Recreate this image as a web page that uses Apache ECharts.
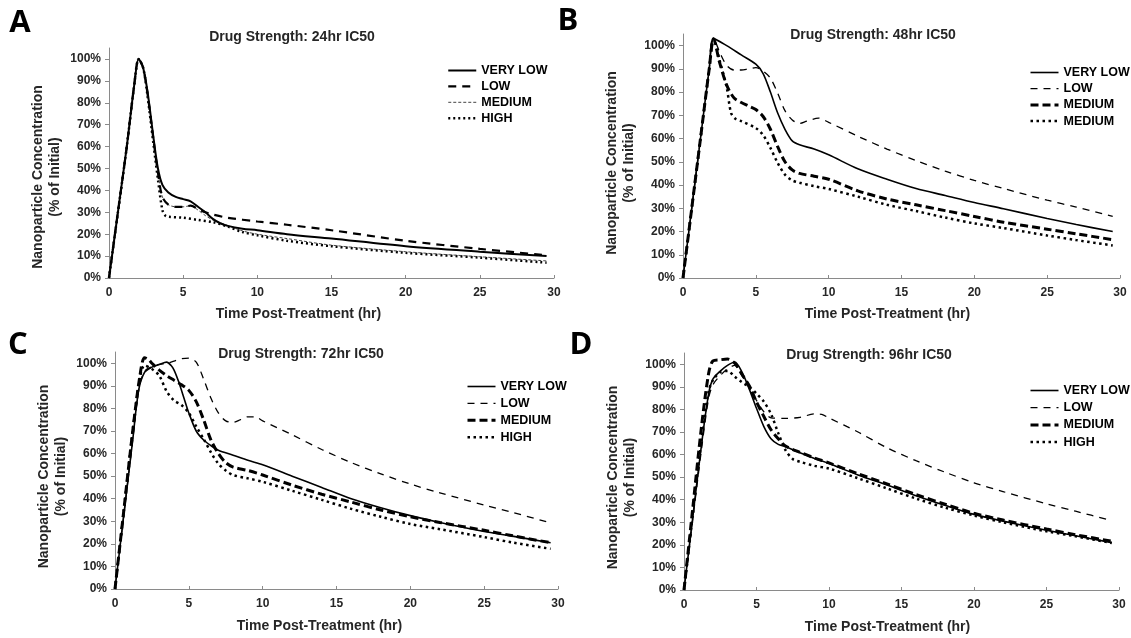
<!DOCTYPE html>
<html><head><meta charset="utf-8">
<script src="https://cdn.jsdelivr.net/npm/echarts@6/dist/echarts.min.js"></script>
<style>html,body{margin:0;padding:0;background:#fff}#c{width:1131px;height:638px}</style>
</head><body><div id="c"></div><script>
// ---------- DATA (time in hr, concentration in % of initial) ----------
const PANEL_TITLES = ['Drug Strength: 24hr IC50','Drug Strength: 48hr IC50','Drug Strength: 72hr IC50','Drug Strength: 96hr IC50'];
const PANEL_LETTERS = ['A','B','C','D'];
const LEGEND_A = ['VERY LOW','LOW','MEDIUM','HIGH'];
const LEGEND_B = ['VERY LOW','LOW','MEDIUM','MEDIUM'];
const LEGEND_C = ['VERY LOW','LOW','MEDIUM','HIGH'];
const LEGEND_D = ['VERY LOW','LOW','MEDIUM','HIGH'];
const Y_TICKS = [0,10,20,30,40,50,60,70,80,90,100];

const A_VERY_LOW = [[0,0],[0.6,30],[1.2,60],[1.7,88],[2,100],[2.3,96],[2.6,85],[3,64],[3.3,50],[3.6,42.5],[4,39],[4.5,37],[5,36],[5.5,35],[6,32.5],[6.5,30],[7,27],[7.5,25],[8,23.8],[9,22.5],[10,21.8],[12,20],[15,18],[20,14.5],[25,12],[29.5,10]];
const A_LOW = [[0,0],[0.6,30],[1.2,60],[1.7,88],[2,100],[2.3,96],[2.6,84],[3,63],[3.3,48],[3.6,37],[4,33.5],[4.5,32.5],[5,32.5],[5.5,33],[6,31.5],[6.5,30],[7,29],[8,27.5],[10,25.8],[12,24.3],[15,21.8],[20,17],[25,13.3],[29.5,10.4]];
const A_MEDIUM = [[0,0],[0.6,30],[1.2,60],[1.7,88],[2,100],[2.3,96],[2.6,84],[3,63],[3.3,48],[3.6,37],[4,33.5],[4.5,32.5],[5,32.5],[5.5,33],[6,31],[6.5,28.5],[7,26.5],[8,24],[9,21.5],[10,20],[12,18],[15,15],[20,12],[25,9.7],[29.5,7.8]];
const A_HIGH = [[0,0],[0.6,30],[1.2,60],[1.7,88],[2,100],[2.3,96],[2.6,83],[3,61],[3.3,45],[3.6,31],[3.8,28.5],[4,28],[5,27.5],[6,26.5],[7,25.5],[8,23.5],[9,21],[10,19.5],[12,17],[15,14.5],[20,11.5],[25,9.3],[29.5,7]];

const B_VERY_LOW = [[0,0],[0.6,30],[1.2,60],[1.8,90],[2.1,103],[3,100],[4,96],[5,92],[5.5,88],[6,80],[6.5,71],[7,64],[7.5,59],[8,57.3],[9,55.5],[10,53],[12,47],[14,42.5],[16,38.5],[18,35.5],[20,32.5],[22,29.8],[25,25.6],[27,23],[29.5,20]];
const B_LOW = [[0,0],[0.6,30],[1.2,60],[1.8,90],[2.1,103],[2.6,96],[3,91.5],[3.5,89.5],[4,89.5],[4.5,90],[5,90.5],[5.5,89],[6,86],[6.5,79.5],[7,72],[7.5,68],[8,66.5],[8.5,67.5],[9.3,68.8],[10,67],[12,61],[14,55.5],[16,50.5],[18,46],[20,42],[22,38.5],[25,33.5],[27,30.5],[29.5,26.5]];
const B_MEDIUM = [[0,0],[0.6,30],[1.2,60],[1.8,90],[2.1,103],[2.5,93],[3,83],[3.5,77.5],[4,75.5],[4.5,74],[5,72.5],[5.5,69.5],[6,64],[6.5,56.5],[7,50],[7.5,46.5],[8,45],[9,43.8],[10,42.5],[12,37.5],[14,34],[16,31.5],[18,29],[20,26.5],[22,24],[25,21],[27,19],[29.5,16.5]];
const B_HIGH = [[0,0],[0.6,30],[1.2,60],[1.8,90],[2.1,103],[2.5,94],[3,82],[3.3,71],[3.6,68.5],[4,67.5],[5,64.5],[5.5,61.5],[6,56],[6.5,49.5],[7,44.5],[7.5,42],[8,41],[9,39.5],[10,38.3],[12,35],[14,31.5],[16,28.8],[18,26],[20,23.5],[22,21.5],[25,18.3],[27,16.3],[29.5,14]];

const C_VERY_LOW = [[0,0],[0.6,33],[1.2,66],[1.6,88],[2,96],[2.5,98.3],[3,99.5],[3.5,100.5],[3.8,99],[4,97],[4.3,92],[4.7,84],[5,78],[5.5,70],[6,66],[6.5,63.5],[7,61.5],[8,59.3],[9,57],[10,55],[12,50],[14,45],[16,40],[18,36],[20,32.5],[22,29.5],[25,25.5],[27,23.3],[29.5,20.5]];
const C_LOW = [[0,0],[0.6,33],[1.2,66],[1.6,88],[2,96.5],[2.5,98.5],[3,99.5],[3.5,100],[4,101],[4.5,102],[5,102.3],[5.5,100.5],[6,93],[6.5,84.5],[7,78],[7.5,74.5],[8,73.8],[8.5,75],[9,76.3],[9.5,76.3],[10,74.5],[12,68.3],[14,61.8],[16,56],[18,51],[20,46.5],[22,42.6],[25,37.2],[27,33.8],[29.5,29.3]];
const C_MEDIUM = [[0,0],[0.6,35],[1.2,70],[1.7,95],[2,102.5],[2.3,101.5],[2.5,100],[3,97],[3.5,94.5],[4,92.5],[4.5,90.5],[5,88],[5.5,83],[6,75],[6.5,66],[7,60],[7.5,56],[8,54],[9,52.5],[10,50.5],[12,46],[14,42],[16,38.5],[18,35],[20,32],[22,29.5],[25,26],[27,23.5],[29.5,20.5]];
const C_HIGH = [[0,0],[0.6,35],[1.2,70],[1.7,94],[2,99],[2.5,97.5],[3,94.5],[3.5,87.5],[4,83.5],[4.5,81.5],[5,78],[5.5,72],[6,66.5],[6.5,60.5],[7,55.5],[7.5,52.5],[8,50.5],[9,49],[10,47.5],[12,43.5],[14,39.5],[16,35.5],[18,32],[20,28.8],[22,26.5],[25,23],[27,20.5],[29.5,17.8]];

const D_VERY_LOW = [[0,0],[0.6,32],[1.2,64],[1.7,87],[2,93.5],[2.5,97],[3,99.5],[3.5,101],[4,96.5],[4.5,89],[5,80.5],[5.5,72.5],[6,67],[6.5,64.5],[7,63.5],[8,60.8],[9,58.3],[10,56],[12,51],[14,46.5],[16,41.8],[18,37.5],[20,33.5],[22,30.5],[25,26.5],[27,24],[29.5,21]];
const D_LOW = [[0,0],[0.6,31],[1.2,62],[1.7,85],[2,91],[2.5,95],[3,98],[3.5,99.5],[4,95],[4.5,89.5],[5,84],[5.5,79],[6,76.3],[7,76],[8,76.5],[9,78],[9.5,77.8],[10,76.2],[12,70],[14,63],[16,57.3],[18,52.2],[20,47.5],[22,43.6],[25,38.2],[27,34.9],[29.5,30.8]];
const D_MEDIUM = [[0,0],[0.6,36],[1.2,72],[1.7,96],[2,101.5],[2.5,102],[3,102.3],[3.5,100.5],[4,95.5],[4.5,90.5],[5,83.3],[5.5,77],[6,71],[6.5,67],[7,63.8],[8,61],[9,58.5],[10,56.3],[12,51.5],[14,47],[16,42.3],[18,38],[20,34],[22,31],[25,27],[27,24.5],[29.5,21.6]];
const D_HIGH = [[0,0],[0.6,33],[1.2,66],[1.7,88],[2,93],[2.5,96.5],[3,97],[3.5,94.5],[4,92],[4.5,90],[5,87],[5.5,83.5],[6,78],[6.5,69.5],[7,62],[7.5,58],[8,56.8],[9,55],[10,53.8],[12,49.5],[14,45],[16,40.5],[18,36.5],[20,33],[22,30],[25,26],[27,23.8],[29.5,20.8]];

// ---------- LAYOUT / STYLE ----------
const FONT = 'Liberation Sans, Arial, sans-serif';
const GRIDS = [
  {left:109, top:48, width:445, height:230},
  {left:683, top:34, width:437, height:244},
  {left:115, top:352, width:443, height:237},
  {left:684, top:353, width:435, height:237}
];
const AXIS_COLOR = '#8a8a8a';
const LABEL_COLOR = '#262626';

const STYLE_A = [
  {type:'solid', width:2},
  {type:[8,6], width:2.2},
  {type:[3,2], width:1, color:'#444'},
  {type:[2,3], width:2.5}
];
const STYLE_BCD = [
  {type:'solid', width:1.6},
  {type:[7,6], width:1.3},
  {type:[8,4], width:3},
  {type:[2.5,3.5], width:2.5}
];

const panels = [
  {data:[A_VERY_LOW,A_LOW,A_MEDIUM,A_HIGH], names:LEGEND_A, styles:STYLE_A, sfx:['','','',''], legend:{left:447, top:64, gap:2.9}},
  {data:[B_VERY_LOW,B_LOW,B_MEDIUM,B_HIGH], names:LEGEND_B, styles:STYLE_BCD, sfx:[' ',' ',' ','    '], legend:{left:1029, top:66, gap:3.2}},
  {data:[C_VERY_LOW,C_LOW,C_MEDIUM,C_HIGH], names:LEGEND_C, styles:STYLE_BCD, sfx:['  ','  ','  ','  '], legend:{left:466, top:380, gap:3.9}},
  {data:[D_VERY_LOW,D_LOW,D_MEDIUM,D_HIGH], names:LEGEND_D, styles:STYLE_BCD, sfx:['   ','   ','   ','   '], legend:{left:1029, top:384, gap:4.2}}
];

const titlePos = [[292,37],[873,35],[301,354],[869,355]];
const letterPos = [[20,23],[568,21],[18,345],[581,345]];
const xNameShift = [-33,-14,-17,-14];
const yNameShift = [14,7,6,6];

const xAxes = [], yAxes = [], series = [], legends = [], graphics = [];

panels.forEach((p, i) => {
  xAxes.push({
    gridIndex:i, type:'value', min:0, max:30, interval:5,
    axisLine:{show:true, onZero:false, lineStyle:{color:AXIS_COLOR, width:1}},
    axisTick:{show:true, inside:true, length:3, lineStyle:{color:AXIS_COLOR}},
    splitLine:{show:false},
    axisLabel:{color:LABEL_COLOR, fontFamily:FONT, fontWeight:'bold', fontSize:12, margin:9},
    name:'Time Post-Treatment (hr)', nameLocation:'middle', nameGap: (i<2?29:30),
    nameTextStyle:{color:LABEL_COLOR, fontFamily:FONT, fontWeight:'bold', fontSize:14,
      padding:[0, Math.max(0,-2*xNameShift[i]), 0, Math.max(0,2*xNameShift[i])]}
  });
  yAxes.push({
    gridIndex:i, type:'value', min:0, max:105, interval:10,
    axisLine:{show:true, lineStyle:{color:AXIS_COLOR, width:1}},
    axisTick:{show:true, inside:false, length:4, lineStyle:{color:AXIS_COLOR}, customValues:Y_TICKS},
    splitLine:{show:false},
    axisLabel:{color:LABEL_COLOR, fontFamily:FONT, fontWeight:'bold', fontSize:12, margin:8,
      customValues:Y_TICKS, formatter: v => v + '%'},
    name:'Nanoparticle Concentration\n(% of Initial)', nameLocation:'middle', nameGap:45,
    nameTextStyle:{color:LABEL_COLOR, fontFamily:FONT, fontWeight:'bold', fontSize:14, lineHeight:17,
      padding:[0, 2*yNameShift[i], 0, 0]}
  });
  const legendNames = [];
  p.data.forEach((d, k) => {
    const nm = p.names[k] + p.sfx[k];
    legendNames.push(nm);
    const st = p.styles[k];
    series.push({
      name:nm, type:'line', xAxisIndex:i, yAxisIndex:i, data:d,
      symbol:'none', smooth:0.3, silent:true, animation:false,
      lineStyle:{color: st.color || '#000', width:st.width, type:st.type, cap:'butt'},
      itemStyle:{color: st.color || '#000'},
      z: 2 + (3-k)
    });
  });
  legends.push({
    show:true, orient:'vertical', left:p.legend.left, top:p.legend.top,
    itemWidth:28, itemHeight:12, itemGap:p.legend.gap, padding:0,
    data:legendNames, selectedMode:false,
    formatter: n => n.trim(),
    lineStyle:{width:'inherit', type:'inherit'},
    itemStyle:{color:'rgba(0,0,0,0)', borderWidth:0, opacity:0},
    textStyle:{color:'#000', fontFamily:FONT, fontWeight:'bold', fontSize:12.5}
  });
  graphics.push({
    type:'text', x:titlePos[i][0], y:titlePos[i][1],
    style:{text:PANEL_TITLES[i], x:0, y:0, align:'center', verticalAlign:'middle', fill:LABEL_COLOR,
      font:'bold 14px ' + FONT}
  });
  graphics.push({
    type:'text', x:letterPos[i][0], y:letterPos[i][1],
    style:{text:PANEL_LETTERS[i], x:0, y:0, align:'center', verticalAlign:'middle', fill:'#000',
      font:'bold 31px "Open Sans", sans-serif'}
  });
});

const chart = echarts.init(document.getElementById('c'), null, {renderer:'canvas'});
chart.setOption({
  animation:false,
  backgroundColor:'#fff',
  grid: GRIDS,
  xAxis: xAxes,
  yAxis: yAxes,
  legend: legends,
  series: series,
  graphic: graphics
});
</script></body></html>
